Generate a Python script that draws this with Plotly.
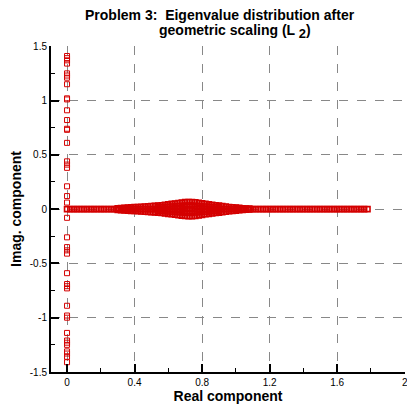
import plotly.graph_objects as go

# eigenvalues on the imaginary axis (real part 0)
column_im = [1.41, 1.39, 1.37, 1.34, 1.25, 1.23, 1.21, 1.15, 1.02, 1.01, 0.91,
             0.82, 0.74, 0.73, 0.61, 0.44, 0.41, 0.38, 0.21, 0.12, 0.06,
             -0.08, -0.26, -0.35, -0.38, -0.41, -0.59, -0.69, -0.71, -0.73,
             -0.89, -0.98, -1.00, -1.14, -1.21, -1.23, -1.25, -1.31, -1.33,
             -1.36, -1.41]
column_re = [0.0] * len(column_im)

# eigenvalues lying on the real axis
band_re = [0.00, 0.02, 0.04, 0.06, 0.08, 0.10, 0.12, 0.14, 0.16, 0.18,
           0.20, 0.22, 0.24, 0.26, 0.28, 0.30, 0.32, 0.34, 0.36, 0.38,
           0.40, 0.42, 0.44, 0.46, 0.48, 0.50, 0.52, 0.54, 0.56, 0.58,
           0.60, 0.62, 0.64, 0.66, 0.68, 0.70, 0.72, 0.74, 0.76, 0.78,
           0.80, 0.82, 0.84, 0.86, 0.88, 0.90, 0.92, 0.94, 0.96, 0.98,
           1.00, 1.02, 1.04, 1.06, 1.08, 1.10, 1.12, 1.14, 1.16, 1.18,
           1.20, 1.22, 1.24, 1.26, 1.28, 1.30, 1.32, 1.34, 1.36, 1.38,
           1.40, 1.42, 1.44, 1.46, 1.48, 1.50, 1.52, 1.54, 1.56, 1.58,
           1.60, 1.62, 1.64, 1.66, 1.68, 1.70, 1.72, 1.74, 1.76, 1.78]
band_im = [0.0] * len(band_re)

# complex pairs forming the bulge around 0.72
blob_re = [0.30, 0.30, 0.32, 0.32, 0.34, 0.34, 0.36, 0.36, 0.38, 0.38,
           0.40, 0.40, 0.42, 0.42, 0.44, 0.44, 0.46, 0.46, 0.48, 0.48,
           0.50, 0.50, 0.52, 0.52,
           0.54, 0.54, 0.54, 0.54, 0.56, 0.56, 0.56, 0.56,
           0.58, 0.58, 0.58, 0.58, 0.60, 0.60, 0.60, 0.60,
           0.62, 0.62, 0.62, 0.62, 0.64, 0.64, 0.64, 0.64,
           0.66, 0.66, 0.66, 0.66, 0.68, 0.68, 0.68, 0.68,
           0.70, 0.70, 0.70, 0.70, 0.72, 0.72, 0.72, 0.72,
           0.74, 0.74, 0.74, 0.74, 0.76, 0.76, 0.76, 0.76,
           0.78, 0.78, 0.78, 0.78, 0.80, 0.80, 0.80, 0.80,
           0.82, 0.82, 0.82, 0.82, 0.84, 0.84, 0.84, 0.84,
           0.86, 0.86, 0.86, 0.86, 0.88, 0.88, 0.88, 0.88,
           0.90, 0.90, 0.90, 0.90,
           0.92, 0.92, 0.94, 0.94, 0.96, 0.96, 0.98, 0.98,
           1.00, 1.00, 1.02, 1.02, 1.04, 1.04, 1.06, 1.06, 1.08, 1.08]
blob_im = [0.008, -0.008, 0.010, -0.010, 0.012, -0.012, 0.014, -0.014, 0.016, -0.016,
           0.018, -0.018, 0.020, -0.020, 0.022, -0.022, 0.024, -0.024, 0.026, -0.026,
           0.028, -0.028, 0.030, -0.030,
           0.033, -0.033, 0.016, -0.016, 0.036, -0.036, 0.018, -0.018,
           0.040, -0.040, 0.020, -0.020, 0.044, -0.044, 0.022, -0.022,
           0.048, -0.048, 0.024, -0.024, 0.052, -0.052, 0.026, -0.026,
           0.056, -0.056, 0.028, -0.028, 0.060, -0.060, 0.030, -0.030,
           0.064, -0.064, 0.032, -0.032, 0.066, -0.066, 0.033, -0.033,
           0.066, -0.066, 0.033, -0.033, 0.063, -0.063, 0.031, -0.031,
           0.058, -0.058, 0.029, -0.029, 0.053, -0.053, 0.026, -0.026,
           0.048, -0.048, 0.024, -0.024, 0.044, -0.044, 0.022, -0.022,
           0.040, -0.040, 0.020, -0.020, 0.036, -0.036, 0.018, -0.018,
           0.032, -0.032, 0.016, -0.016,
           0.028, -0.028, 0.024, -0.024, 0.020, -0.020, 0.017, -0.017,
           0.014, -0.014, 0.011, -0.011, 0.008, -0.008, 0.006, -0.006, 0.004, -0.004]

x_ticks = [0, 0.4, 0.8, 1.2, 1.6, 2]
x_labels = ['0', '0.4', '0.8', '1.2', '1.6', '2']
y_ticks = [-1.5, -1, -0.5, 0, 0.5, 1, 1.5]
y_labels = ['-1.5', '-1', '-0.5', '0', '0.5', '1', '1.5']

red = '#d40000'
font = 'Liberation Sans, Arial, sans-serif'

traces = []
# dense band + bulge: thicker outlines so the squares merge into a solid strip
for xs, ys in [(band_re, band_im), (blob_re, blob_im)]:
    traces.append(go.Scatter(x=xs, y=ys, mode='markers',
                             marker={'symbol': 'square-open', 'size': 5,
                                     'color': red, 'line': {'width': 1.6, 'color': red}},
                             showlegend=False, cliponaxis=False))
traces.append(go.Scatter(x=column_re, y=column_im, mode='markers',
                         marker={'symbol': 'square-open', 'size': 5,
                                 'color': red, 'line': {'width': 1, 'color': red}},
                         showlegend=False, cliponaxis=False))

axis_common = {
    'showline': True, 'linecolor': 'black', 'linewidth': 2,
    'ticks': 'inside', 'ticklen': 8, 'tickwidth': 1.5, 'tickcolor': 'black',
    'showgrid': True, 'gridcolor': '#888888', 'griddash': 'dash', 'gridwidth': 1,
    'zeroline': False, 'mirror': False, 'automargin': False,
    'tickfont': {'family': font, 'size': 10, 'color': 'black'},
    'minor': {'ticks': 'inside', 'ticklen': 4, 'tickwidth': 1, 'tickcolor': 'black',
              'showgrid': False},
}

# page body has an 8px margin, so the figure is sized 8px smaller on each axis
fig = go.Figure(data=traces)
fig.update_layout(
    width=407, height=409,
    margin={'l': 43, 'r': 10, 't': 38, 'b': 45},
    plot_bgcolor='white', paper_bgcolor='white',
    font={'family': font, 'color': 'black'},
    xaxis=dict(axis_common, range=[-0.095, 2.002], tickvals=x_ticks, ticktext=x_labels,
               minor=dict(axis_common['minor'], dtick=0.2, tick0=0),
               title={'text': '<b>Real component</b>', 'font': {'size': 14}, 'standoff': 2}),
    yaxis=dict(axis_common, range=[-1.5, 1.502], tickvals=y_ticks, ticktext=y_labels,
               minor=dict(axis_common['minor'], dtick=0.25, tick0=0)),
    annotations=[
        dict(text='<b>Problem 3:  Eigenvalue distribution after</b>', x=0.477, y=1.096,
             xref='paper', yref='paper', showarrow=False, xanchor='center', yanchor='middle',
             font={'size': 14}),
        dict(text='<b>geometric scaling (L <sub><span style="font-size:13px">2</span></sub>)</b>',
             x=0.52, y=1.043,
             xref='paper', yref='paper', showarrow=False, xanchor='center', yanchor='middle',
             font={'size': 14}),
        dict(text='<b>Imag. component</b>', x=-0.099, y=0.5, textangle=-90,
             xref='paper', yref='paper', showarrow=False, xanchor='center', yanchor='middle',
             font={'size': 14}),
    ],
)

fig.write_html("out.html")
